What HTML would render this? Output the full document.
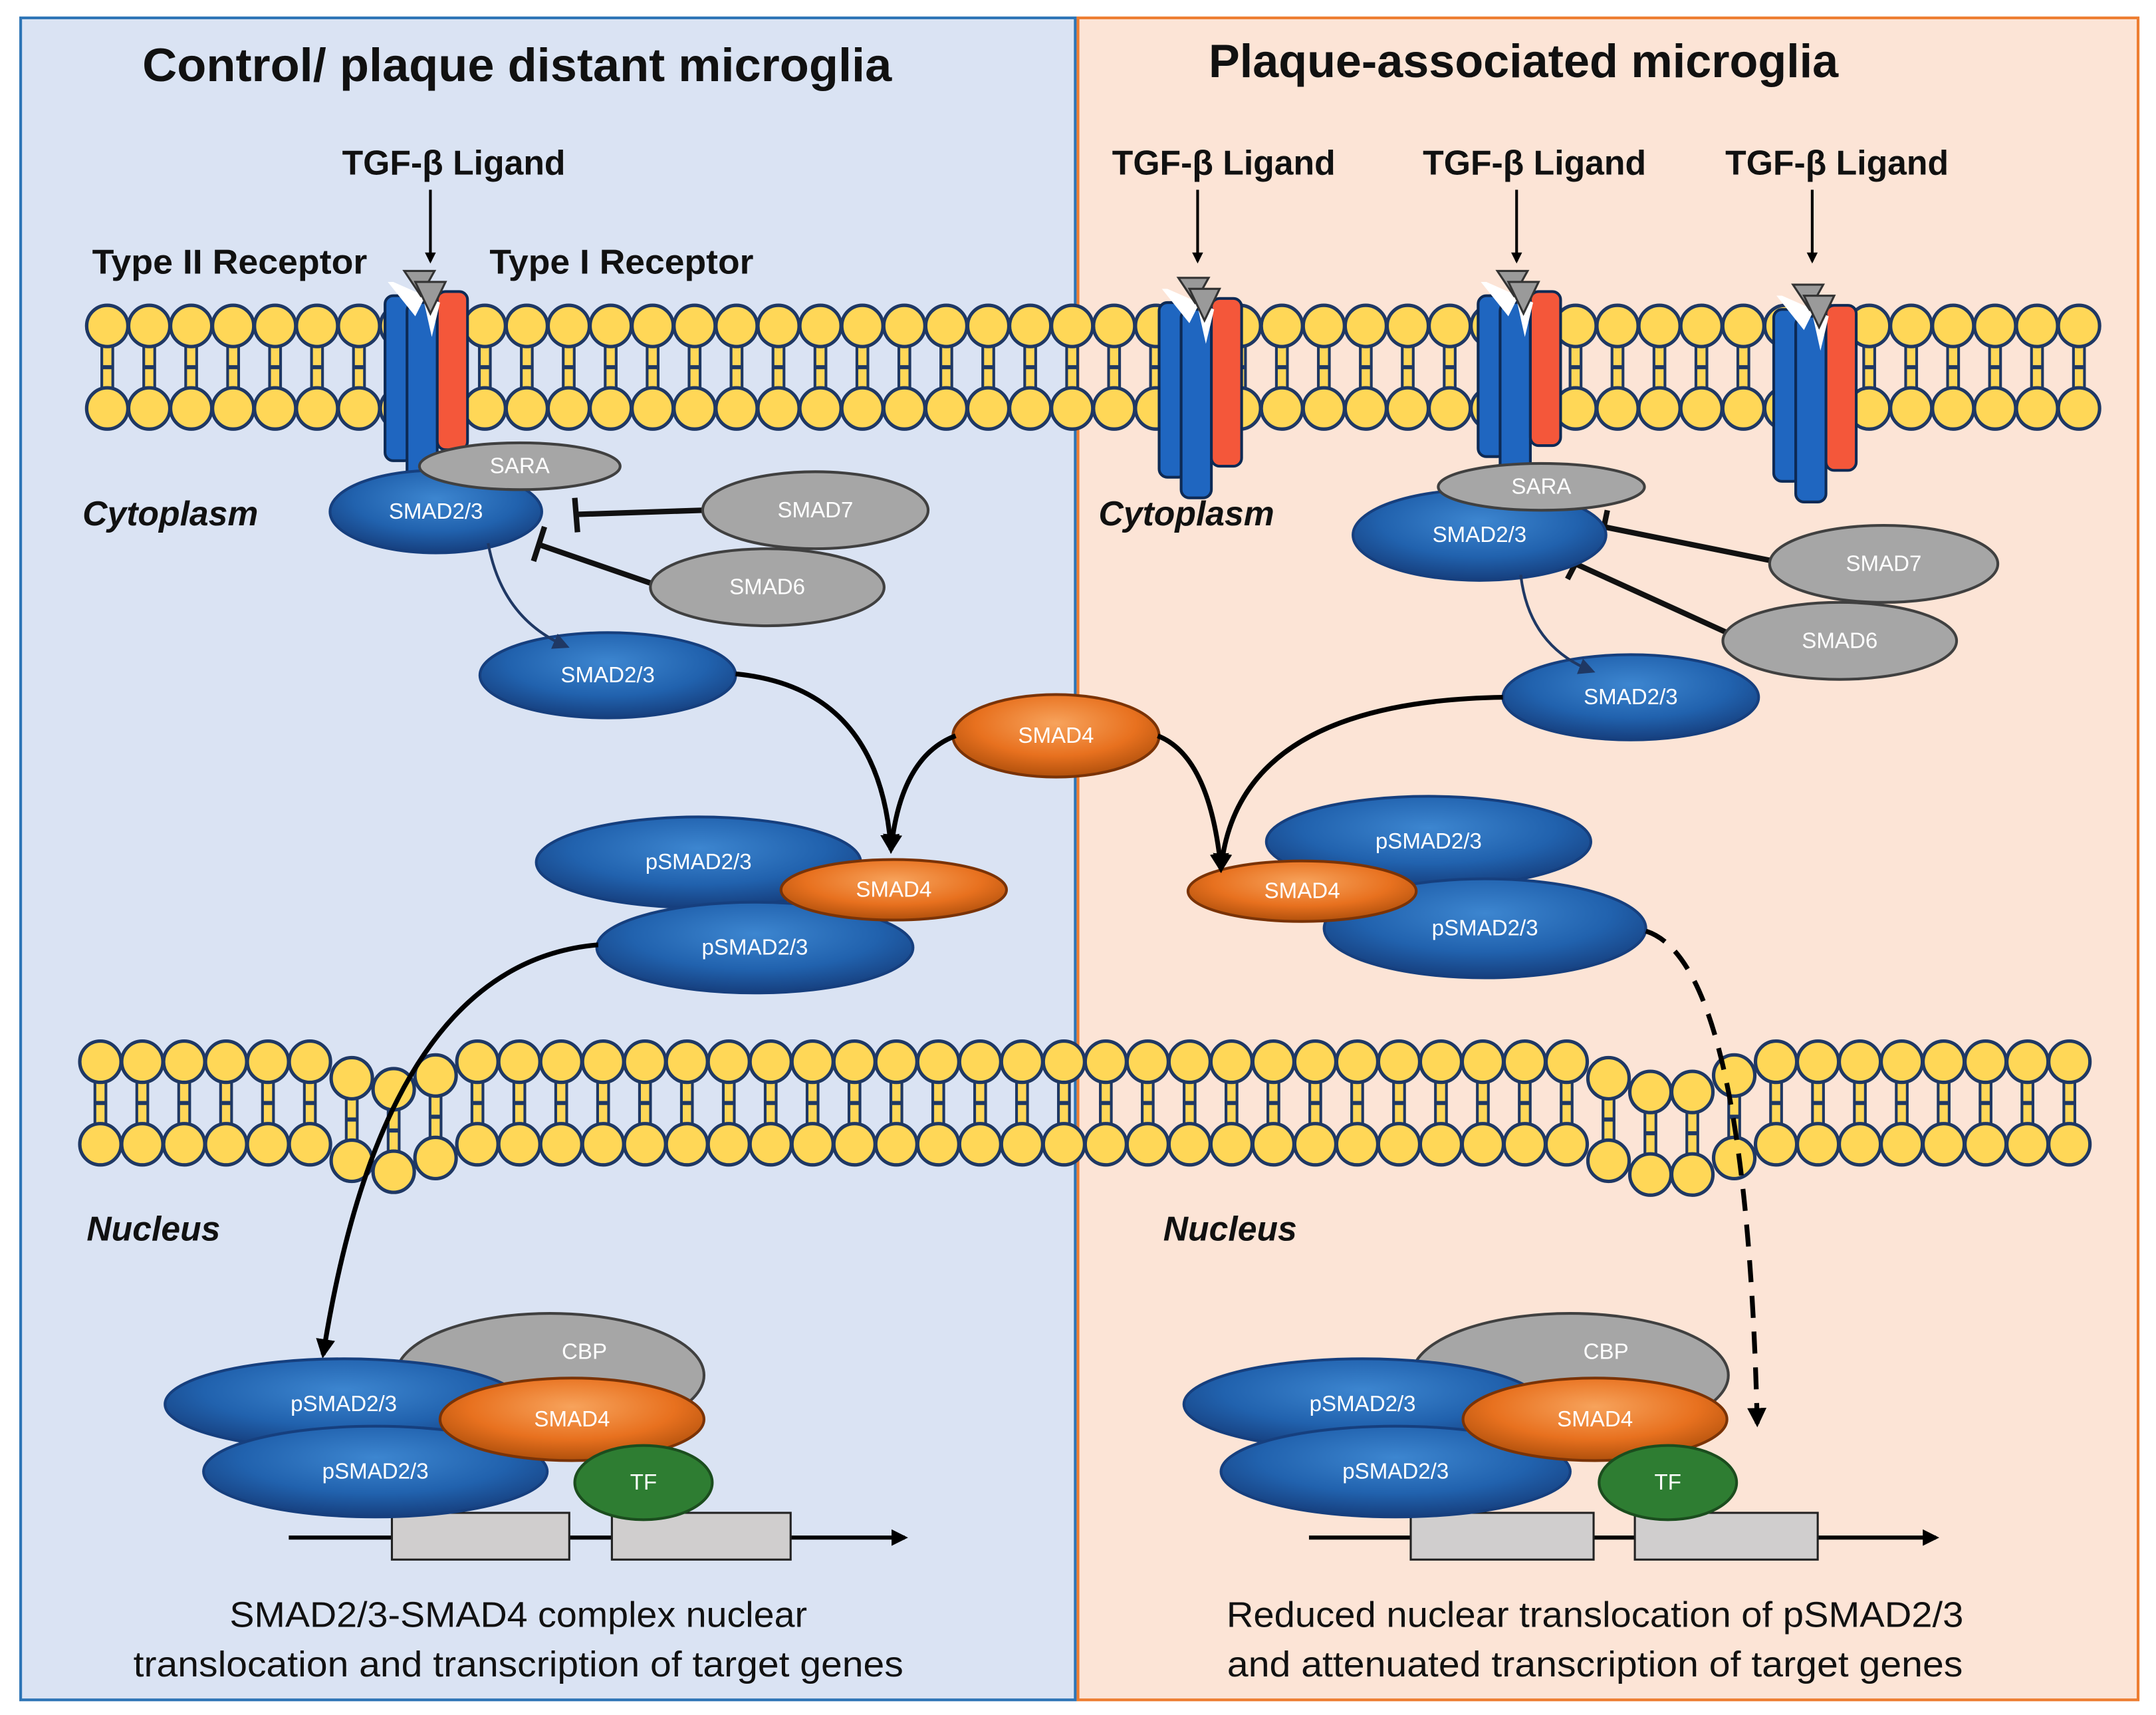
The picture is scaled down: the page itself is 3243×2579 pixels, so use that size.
<!DOCTYPE html>
<html><head><meta charset="utf-8"><style>
html,body{margin:0;padding:0;background:#fff}
svg{display:block}
text{font-family:"Liberation Sans","DejaVu Sans",sans-serif}
.w{fill:#fff;font-size:16px;text-anchor:middle;dominant-baseline:central}
.b{font-weight:bold;fill:#111}
</style></head><body>
<svg id="s" width="3243" height="2579" viewBox="0 0 1568 1247" xmlns="http://www.w3.org/2000/svg">
<defs>
<radialGradient id="bl" cx="50%" cy="35%" r="65%"><stop offset="0" stop-color="#3d86d0"/><stop offset="0.6" stop-color="#2162ae"/><stop offset="1" stop-color="#163f7e"/></radialGradient>
<radialGradient id="or" cx="50%" cy="35%" r="65%"><stop offset="0" stop-color="#f7a35c"/><stop offset="0.6" stop-color="#e8711f"/><stop offset="1" stop-color="#b0500c"/></radialGradient>
<marker id="ah" viewBox="0 0 10 10" refX="8" refY="5" markerWidth="4" markerHeight="4" orient="auto"><path d="M0,0L10,5L0,10z" fill="#000"/></marker>
<marker id="ah2" viewBox="0 0 10 10" refX="8" refY="5" markerWidth="6" markerHeight="6" orient="auto"><path d="M0,0L10,5L0,10z" fill="#1f3864"/></marker>
</defs>
<rect x="15" y="13" width="767" height="1223" fill="#dae3f3" stroke="#2e75b6" stroke-width="2"/>
<rect x="784" y="13" width="771" height="1223" fill="#fce4d6" stroke="#ed7d31" stroke-width="2"/>
<text x="376" y="59" class="b" font-size="34" text-anchor="middle" textLength="545" lengthAdjust="spacingAndGlyphs">Control/ plaque distant microglia</text>
<text x="1108" y="56" class="b" font-size="34" text-anchor="middle" textLength="458" lengthAdjust="spacingAndGlyphs">Plaque-associated microglia</text>
<g id="mem"></g>
<g id="rec"></g>
<g class="b" font-size="25">
<text x="330" y="127" text-anchor="middle">TGF-β Ligand</text>
<text x="890" y="127" text-anchor="middle">TGF-β Ligand</text>
<text x="1116" y="127" text-anchor="middle">TGF-β Ligand</text>
<text x="1336" y="127" text-anchor="middle">TGF-β Ligand</text>
<text x="167" y="199" text-anchor="middle" textLength="200" lengthAdjust="spacingAndGlyphs">Type II Receptor</text>
<text x="452" y="199" text-anchor="middle" textLength="192" lengthAdjust="spacingAndGlyphs">Type I Receptor</text>
<text x="60" y="382" font-style="italic">Cytoplasm</text>
<text x="799" y="382" font-style="italic">Cytoplasm</text>
<text x="63" y="902" font-style="italic">Nucleus</text>
<text x="846" y="902" font-style="italic">Nucleus</text>
</g>
<g stroke="#000" stroke-width="2" marker-end="url(#ah)" fill="none">
<line x1="313" y1="138" x2="313" y2="190"/>
<line x1="871" y1="138" x2="871" y2="190"/>
<line x1="1103" y1="138" x2="1103" y2="190"/>
<line x1="1318" y1="138" x2="1318" y2="190"/>
</g>
<!-- inhibitors -->
<g stroke="#111" stroke-width="4" fill="none">
<line x1="512" y1="371" x2="420" y2="374"/><line x1="418" y1="362" x2="420" y2="387"/>
<line x1="476" y1="425" x2="392" y2="396"/><line x1="396" y1="383" x2="388" y2="408"/>
<line x1="1290" y1="408" x2="1166" y2="383"/><line x1="1169" y1="371" x2="1164" y2="395"/>
<line x1="1256" y1="460" x2="1146" y2="410"/><line x1="1152" y1="398" x2="1140" y2="421"/>
</g>
<g id="ell"></g>
<!-- arrows -->
<g fill="none" stroke="#1f3864" stroke-width="2" marker-end="url(#ah2)">
<path d="M355,395 Q365,450 412,470"/>
<path d="M1106,418 Q1112,470 1158,488"/>
</g>
<g fill="none" stroke="#000" stroke-width="3.5" marker-end="url(#ah)">
<path d="M535,490 Q640,500 648,618"/>
<path d="M695,535 Q655,550 648,618"/>
<path d="M842,535 Q880,550 888,632"/>
<path d="M1093,507 Q900,510 888,632"/>
<path d="M435,687 Q280,700 235,985"/>
<path d="M1197,677 Q1270,700 1278,1035" stroke-dasharray="16,10"/>
</g>
<!-- genes -->
<g>
<line x1="210" y1="1118" x2="658" y2="1118" stroke="#000" stroke-width="3" marker-end="url(#ah)"/>
<rect x="285" y="1100" width="129" height="34" fill="#d0cece" stroke="#222" stroke-width="1.5"/>
<rect x="445" y="1100" width="130" height="34" fill="#d0cece" stroke="#222" stroke-width="1.5"/>
<line x1="952" y1="1118" x2="1408" y2="1118" stroke="#000" stroke-width="3" marker-end="url(#ah)"/>
<rect x="1026" y="1100" width="133" height="34" fill="#d0cece" stroke="#222" stroke-width="1.5"/>
<rect x="1189" y="1100" width="133" height="34" fill="#d0cece" stroke="#222" stroke-width="1.5"/>
</g>
<g id="ell2"></g>
<g font-size="26" fill="#111" text-anchor="middle">
<text x="377" y="1183" textLength="420" lengthAdjust="spacingAndGlyphs">SMAD2/3-SMAD4 complex nuclear</text>
<text x="377" y="1219" textLength="560" lengthAdjust="spacingAndGlyphs">translocation and transcription of target genes</text>
<text x="1160" y="1183" textLength="536" lengthAdjust="spacingAndGlyphs">Reduced nuclear translocation of pSMAD2/3</text>
<text x="1160" y="1219" textLength="535" lengthAdjust="spacingAndGlyphs">and attenuated transcription of target genes</text>
</g>
</svg>
<script>
var NS="http://www.w3.org/2000/svg";
function el(p,t,a,txt){var e=document.createElementNS(NS,t);for(var k in a)e.setAttribute(k,a[k]);if(txt!==undefined)e.textContent=txt;document.getElementById(p).appendChild(e);return e;}
function lipid(x,yt,yb,dy){
 yt+=dy;yb+=dy;
 el("mem","rect",{x:x-4,y:yt+10,width:8,height:yb-yt-20,fill:"#ffd757",stroke:"#1f3864","stroke-width":2});
 el("mem","line",{x1:x-4,y1:(yt+yb)/2,x2:x+4,y2:(yt+yb)/2,stroke:"#1f3864","stroke-width":3});
 el("mem","circle",{cx:x,cy:yt,r:15,fill:"#ffd757",stroke:"#1f3864","stroke-width":2.5});
 el("mem","circle",{cx:x,cy:yb,r:15,fill:"#ffd757",stroke:"#1f3864","stroke-width":2.5});
}
for(var i=0;i<=47;i++){lipid(78+i*(1512-78)/47,237,297,0);}
for(var i=0;i<=47;i++){
 var x=73+i*(1505-73)/47;
 var d=0;
 if(x>255&&x<285)d=12;
 if(x>285&&x<315)d=20;
 if(x>315&&x<345)d=10;
 if(x>1165&&x<1195)d=12;
 if(x>1195&&x<1225)d=22;
 if(x>1225&&x<1255)d=22;
 if(x>1255&&x<1285)d=10;
 lipid(x,772,832,d);
}
function receptor(x,top,bot){
 el("rec","rect",{x:x,y:top+15,width:20,height:bot-top-20,fill:"#1f66c0",stroke:"#0d2a55","stroke-width":2,rx:6});
 el("rec","rect",{x:x+16,y:top+20,width:22,height:bot-top-10,fill:"#1f66c0",stroke:"#0d2a55","stroke-width":2,rx:6});
 el("rec","rect",{x:x+38,y:top+12,width:22,height:bot-top-25,fill:"#f4573a",stroke:"#0d2a55","stroke-width":2,rx:6});
 el("rec","path",{d:"M"+(x+2)+","+(top+5)+" L"+(x+22)+","+(top+30)+" L"+(x+28)+","+(top+18)+" L"+(x+34)+","+(top+45)+" L"+(x+40)+","+(top+20)+" L"+(x+6)+","+(top+5)+"z",fill:"#fff"});
 el("rec","path",{d:"M"+(x+14)+","+(top-3)+" L"+(x+36)+","+(top-3)+" L"+(x+26)+","+(top+15)+"z",fill:"#9a9a9a",stroke:"#333","stroke-width":1.5});
 el("rec","path",{d:"M"+(x+22)+","+(top+5)+" L"+(x+44)+","+(top+5)+" L"+(x+33)+","+(top+28)+"z",fill:"#9a9a9a",stroke:"#333","stroke-width":1.5});
}
receptor(280,200,340);receptor(843,205,352);receptor(1075,200,337);receptor(1290,210,355);
function E(g,cx,cy,rx,ry,f,t,fs){
 var fill=f=="b"?"url(#bl)":f=="o"?"url(#or)":f=="g"?"#a6a6a6":"#2e7d32";
 var st=f=="b"?"#163f7e":f=="o"?"#7a3306":f=="g"?"#404040":"#1b4d1e";
 el(g,"ellipse",{cx:cx,cy:cy,rx:rx,ry:ry,fill:fill,stroke:st,"stroke-width":2});
 el(g,"text",{x:cx,y:cy,"class":"w","font-size":fs||16},t);
}
E("ell",317,372,77,30,"b","SMAD2/3");
E("ell",378,339,73,17,"g","SARA");
E("ell",593,371,82,28,"g","SMAD7");
E("ell",558,427,85,28,"g","SMAD6");
E("ell",442,491,93,31,"b","SMAD2/3");
E("ell",768,535,75,30,"o","SMAD4");
E("ell",508,627,118,33,"b","pSMAD2/3");
E("ell",549,689,115,33,"b","pSMAD2/3");
E("ell",650,647,82,22,"o","SMAD4");
E("ell",1076,389,92,33,"b","SMAD2/3");
E("ell",1121,354,75,17,"g","SARA");
E("ell",1370,410,83,28,"g","SMAD7");
E("ell",1338,466,85,28,"g","SMAD6");
E("ell",1186,507,93,31,"b","SMAD2/3");
E("ell",1039,612,118,33,"b","pSMAD2/3");
E("ell",1080,675,117,36,"b","pSMAD2/3");
E("ell",947,648,83,22,"o","SMAD4");
E("ell2",400,1000,112,45,"g","");
el("ell2","text",{x:425,y:983,"class":"w"},"CBP");
E("ell2",250,1021,130,33,"b","pSMAD2/3");
E("ell2",273,1070,125,33,"b","pSMAD2/3");
E("ell2",416,1032,96,30,"o","SMAD4");
E("ell2",468,1078,50,27,"t","TF");
E("ell2",1142,1000,115,45,"g","");
el("ell2","text",{x:1168,y:983,"class":"w"},"CBP");
E("ell2",991,1021,130,33,"b","pSMAD2/3");
E("ell2",1015,1070,127,33,"b","pSMAD2/3");
E("ell2",1160,1032,96,30,"o","SMAD4");
E("ell2",1213,1078,50,27,"t","TF");
</script>
</body></html>
